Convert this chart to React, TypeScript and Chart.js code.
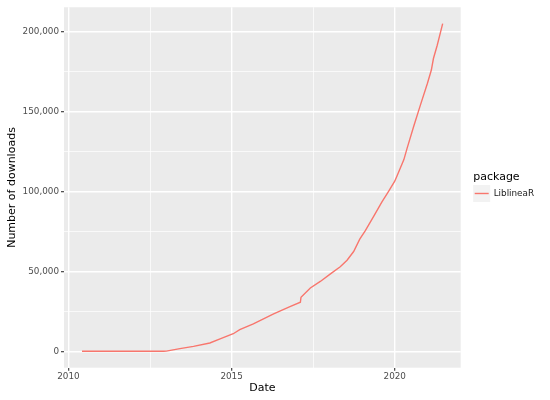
import React, { useEffect, useRef } from "react";
import { Chart, registerables } from "chart.js";

Chart.register(...registerables);

// ---- data ----
const dates: string[] = [
  "2010-06-01", "2011-01-01", "2012-01-01", "2012-12-01", "2013-01-01",
  "2013-06-01", "2013-11-01", "2014-05-01", "2014-09-01", "2015-01-20",
  "2015-04-01", "2015-09-01", "2016-04-15", "2016-10-15", "2017-02-10",
  "2017-02-17", "2017-05-30", "2017-09-20", "2018-01-08", "2018-04-30",
  "2018-07-15", "2018-09-28", "2018-12-05", "2019-02-05", "2019-05-10",
  "2019-08-10", "2019-10-25", "2020-01-01", "2020-01-25", "2020-04-12",
  "2020-05-18", "2020-07-30", "2020-10-15", "2021-01-01", "2021-02-15",
  "2021-03-08", "2021-04-20", "2021-06-20",
];
const downloads: number[] = [
  0, 0, 0, 50, 150,
  1700, 3100, 5200, 7900, 11000,
  13500, 17200, 23450, 28000, 30700,
  33800, 39600, 43700, 48300, 52900,
  57000, 62400, 70100, 75300, 84600,
  93500, 100200, 106400, 109500, 119900,
  127100, 140600, 154100, 167500, 175900,
  183100, 191400, 204900,
];
const seriesName = "LiblineaR";
const legendTitle = "package";
const xTitle = "Date";
const yTitle = "Number of downloads";
const xTicks: number[] = [2010, 2012.5, 2015, 2017.5, 2020];
const xMajorTicks: number[] = [2010, 2015, 2020];
const yTicks: number[] = [0, 25000, 50000, 75000, 100000, 125000, 150000, 175000, 200000];
const yMajorTicks: number[] = [0, 50000, 100000, 150000, 200000];

const LINE_COLOR = "#F8766D";
const FONT = '"DejaVu Sans", sans-serif';

function toYear(d: string): number {
  const [y, m, day] = d.split("-").map(Number);
  return y + (m - 1) / 12 + (day - 1) / 365;
}

const panelBg = {
  id: "panelBg",
  beforeDraw(chart: any) {
    const { ctx, chartArea: a } = chart;
    ctx.save();
    ctx.fillStyle = "#EBEBEB";
    ctx.fillRect(a.left, a.top, a.right - a.left, a.bottom - a.top);
    ctx.restore();
  },
};

const ggLegend = {
  id: "ggLegend",
  afterDraw(chart: any) {
    const { ctx, chartArea: a } = chart;
    const cy = (a.top + a.bottom) / 2;
    const x0 = a.right + 12.5;
    ctx.save();
    ctx.fillStyle = "#000000";
    ctx.font = `11px ${FONT}`;
    ctx.textAlign = "left";
    ctx.textBaseline = "alphabetic";
    ctx.fillText(legendTitle, x0, cy - 7);
    ctx.fillStyle = "#F2F2F2";
    ctx.fillRect(x0, cy - 2.5, 17, 17);
    ctx.strokeStyle = LINE_COLOR;
    ctx.lineWidth = 1.4;
    ctx.beginPath();
    ctx.moveTo(x0 + 1.5, cy + 6);
    ctx.lineTo(x0 + 15.5, cy + 6);
    ctx.stroke();
    ctx.fillStyle = "#1A1A1A";
    ctx.font = `8.8px ${FONT}`;
    ctx.textBaseline = "middle";
    ctx.fillText(seriesName, x0 + 20.5, cy + 6);
    ctx.restore();
  },
};

export default function App() {
  const ref = useRef<HTMLCanvasElement | null>(null);

  useEffect(() => {
    document.body.style.margin = "0";
    const canvas = ref.current;
    if (!canvas) return;

    const xs = dates.map(toYear);
    const xMinD = Math.min(...xs);
    const xMaxD = Math.max(...xs);
    const xPad = (xMaxD - xMinD) * 0.05;
    const yMinD = Math.min(...downloads);
    const yMaxD = Math.max(...downloads);
    const yPad = (yMaxD - yMinD) * 0.05;

    const points = xs.map((x, i) => ({ x, y: downloads[i] }));
    const isMajorX = (v: number) => xMajorTicks.includes(v);
    const isMajorY = (v: number) => yMajorTicks.includes(v);

    const chart = new Chart(canvas, {
      type: "line",
      data: {
        datasets: [
          {
            label: seriesName,
            data: points,
            borderColor: LINE_COLOR,
            borderWidth: 1.4,
            pointRadius: 0,
            pointHoverRadius: 0,
            tension: 0,
            fill: false,
          },
        ],
      },
      options: {
        responsive: false,
        animation: false,
        devicePixelRatio: 1,
        layout: { padding: { top: 5, right: 89.3, left: 0, bottom: 0 } },
        plugins: {
          legend: { display: false },
          tooltip: { enabled: false },
        },
        scales: {
          x: {
            type: "linear",
            min: xMinD - xPad,
            max: xMaxD + xPad,
            afterBuildTicks: (s: any) => {
              s.ticks = xTicks.map((v) => ({ value: v }));
            },
            afterFit: (s: any) => {
              s.height = 32.3;
            },
            border: { display: false },
            grid: {
              color: "#FFFFFF",
              lineWidth: (c: any) => (isMajorX(c.tick?.value) ? 1.4 : 0.7),
              tickColor: (c: any) => (isMajorX(c.tick?.value) ? "#333333" : "rgba(0,0,0,0)"),
              tickWidth: 1.1,
              tickLength: 3,
              drawTicks: true,
            },
            ticks: {
              autoSkip: false,
              maxRotation: 0,
              padding: 1,
              color: "#4D4D4D",
              font: { family: FONT, size: 8.8 },
              callback: (v: any) => (isMajorX(Number(v)) ? String(v) : ""),
            },
            title: {
              display: true,
              text: xTitle,
              color: "#000000",
              font: { family: FONT, size: 11 },
              padding: { top: 0, bottom: 5 },
            },
          },
          y: {
            type: "linear",
            min: yMinD - yPad,
            max: yMaxD + yPad,
            afterBuildTicks: (s: any) => {
              s.ticks = yTicks.map((v) => ({ value: v }));
            },
            afterFit: (s: any) => {
              s.width = 64;
            },
            border: { display: false },
            grid: {
              color: "#FFFFFF",
              lineWidth: (c: any) => (isMajorY(c.tick?.value) ? 1.4 : 0.7),
              tickColor: (c: any) => (isMajorY(c.tick?.value) ? "#333333" : "rgba(0,0,0,0)"),
              tickWidth: 1.1,
              tickLength: 3,
              drawTicks: true,
            },
            ticks: {
              autoSkip: false,
              padding: 2,
              color: "#4D4D4D",
              font: { family: FONT, size: 8.8 },
              callback: (v: any) =>
                isMajorY(Number(v)) ? Number(v).toLocaleString("en-US") : "",
            },
            title: {
              display: true,
              text: yTitle,
              color: "#000000",
              font: { family: FONT, size: 11 },
              padding: { top: 6, bottom: 0 },
            },
          },
        },
      },
      plugins: [panelBg, ggLegend],
    });

    return () => chart.destroy();
  }, []);

  return (
    <div style={{ width: 550, height: 400 }}>
      <canvas ref={ref} width={550} height={400} style={{ display: "block" }} />
    </div>
  );
}
